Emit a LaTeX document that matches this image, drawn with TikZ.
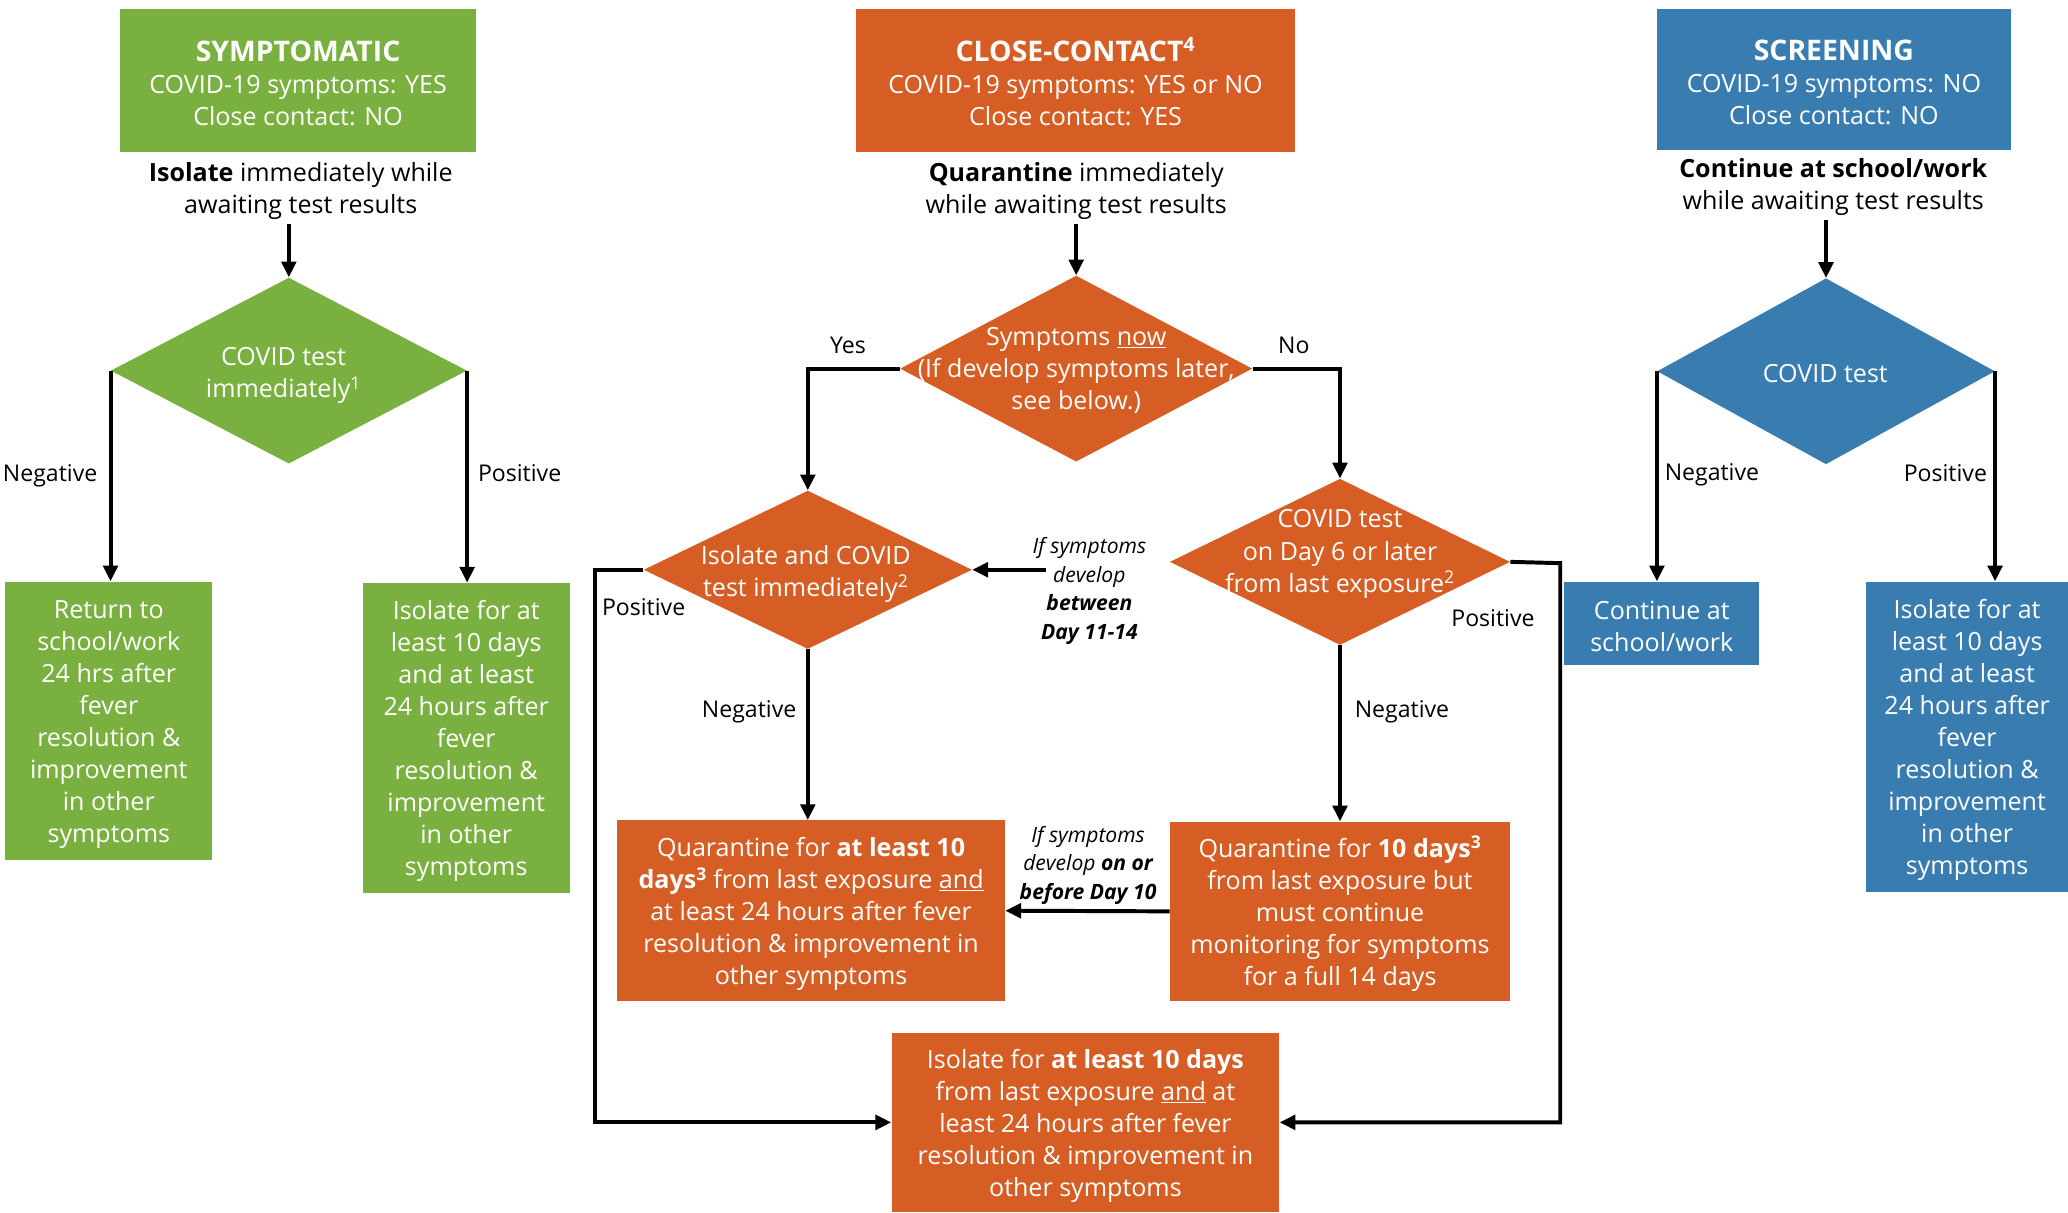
\documentclass[tikz,border=0pt]{standalone}
\usepackage{fontspec}
\setmainfont{Open Sans}
\usetikzlibrary{shapes.geometric,arrows.meta}
\definecolor{cgreen}{RGB}{122,176,64}
\definecolor{corange}{RGB}{214,94,37}
\definecolor{cblue}{RGB}{57,125,176}
\newcommand\bodyfnt{\fontsize{19}{24.3}\selectfont}
\newcommand\titlefnt{\fontsize{21.5}{26}\selectfont\bfseries}
\newcommand\lblfnt{\fontsize{17.5}{22}\selectfont}
\newcommand\itfnt{\fontsize{16}{21.7}\selectfont\itshape}
\newcommand\topst{\rule{0pt}{19.5pt}}
\begin{document}
\begin{tikzpicture}[x=1pt,y=-1pt,
  box/.style={rectangle, inner sep=0pt, align=center, text=white, font=\bodyfnt},
  diam/.style={diamond, inner sep=0pt},
  dtxt/.style={inner sep=0pt, align=center, text=white, font=\bodyfnt},
  txt/.style={inner sep=1pt, align=center, text=black, font=\bodyfnt},
  lbl/.style={inner sep=0pt, text=black, font=\lblfnt},
  itlbl/.style={inner sep=0pt, align=center, text=black, font=\itfnt},
  arr/.style={line width=3pt, -{Triangle[length=12pt,width=11pt]}}]
\useasboundingbox (0,0) rectangle (1568,919);

% ---------- left column ----------
\node[box, fill=cgreen, minimum width=270pt, minimum height=108pt] (s1) at (226,61)
  {{\titlefnt\rule{0pt}{20pt}SYMPTOMATIC}\\COVID-19 symptoms: YES\\Close contact: NO};
\node[txt] (s1t) at (228,145) {\textbf{Isolate} immediately while\\awaiting test results};
\node[diam, fill=cgreen, minimum width=270pt, minimum height=141pt] (d1) at (219,281) {};
\node[dtxt] (d1t) at (215,285) {COVID test\\immediately\textsuperscript{1}};
\node[box, fill=cgreen, minimum width=157pt, minimum height=211pt] (b1) at (82.5,546.5)
  {\topst Return to\\school/work\\24 hrs after\\fever\\resolution \&\\improvement\\in other\\symptoms};
\node[box, fill=cgreen, minimum width=157pt, minimum height=235pt] (b2) at (353.5,559.5)
  {\topst Isolate for at\\least 10 days\\and at least\\24 hours after\\fever\\resolution \&\\improvement\\in other\\symptoms};
\node[lbl] (n1) at (38,361) {Negative};
\node[lbl] (p1) at (394,359) {Positive};

\draw[arr] (d1.north |- s1t.south) ++(0,2) -- (d1.north);
\draw[arr] (d1.west) -- (d1.west |- b1.north);
\draw[arr] (d1.east) -- (d1.east |- b2.north);

% ---------- middle column ----------
\node[box, fill=corange, minimum width=333pt, minimum height=108pt] (c1) at (815.5,61)
  {{\titlefnt\rule{0pt}{20pt}CLOSE-CONTACT\textsuperscript{4}}\\COVID-19 symptoms: YES or NO\\Close contact: YES};
\node[txt] (c1t) at (816,145) {\textbf{Quarantine} immediately\\while awaiting test results};
\node[diam, fill=corange, minimum width=267pt, minimum height=141pt] (d2) at (816,279.5) {};
\node[dtxt] (d2t) at (816,281) {Symptoms \underline{now}\\(If develop symptoms later,\\see below.)};
\node[diam, fill=corange, minimum width=249pt, minimum height=120pt] (d3) at (612.5,432) {};
\node[dtxt] (d3t) at (611,435) {Isolate and COVID\\test immediately\textsuperscript{2}};
\node[diam, fill=corange, minimum width=258pt, minimum height=126pt] (d4) at (1016,426) {};
\node[dtxt] (d4t) at (1016,420) {COVID test\\on Day 6 or later\\from last exposure\textsuperscript{2}};
\node[box, fill=corange, minimum width=294pt, minimum height=137pt] (q1) at (615,690.5)
  {\topst Quarantine for \textbf{at least 10}\\\textbf{days\textsuperscript{3}} from last exposure \underline{and}\\at least 24 hours after fever\\resolution \& improvement in\\other symptoms};
\node[box, fill=corange, minimum width=258pt, minimum height=136pt] (q2) at (1016,691)
  {\topst Quarantine for \textbf{10 days\textsuperscript{3}}\\from last exposure but\\must continue\\monitoring for symptoms\\for a full 14 days};
\node[box, fill=corange, minimum width=294pt, minimum height=136pt] (bot) at (823,851)
  {\topst Isolate for \textbf{at least 10 days}\\from last exposure \underline{and} at\\least 24 hours after fever\\resolution \& improvement in\\other symptoms};

\node[lbl] (yes) at (643,262) {Yes};
\node[lbl] (no) at (981,262) {No};
\node[lbl] (n2) at (568,540) {Negative};
\node[lbl] (n3) at (1063,540) {Negative};
\node[lbl] (p2) at (488,460) {Positive};
\node[lbl] (p3) at (1132,469) {Positive};
\node[itlbl] (l1) at (826,448) {If symptoms\\develop\\\textbf{between}\\\textbf{Day 11-14}};
\node[itlbl] (l2) at (825,656) {If symptoms\\develop \textbf{on or}\\\textbf{before Day 10}};

\coordinate (a1) at (793,432);
\coordinate (k1) at (451,432);
\coordinate (k2) at (1183,427);

\draw[arr] (d2.north |- c1t.south) ++(0,2) -- (d2.north);
\draw[arr] (d2.west) -| (d3.north);
\draw[arr] (d2.east) -| (d4.north);
\draw[arr] (a1) -- (d3.east);
\draw[arr] (d3.south) -- (d3.south |- q1.north);
\draw[arr] (d4.south) -- (d4.south |- q2.north);
\draw[arr] (q2.west) -- (q1.east);
\draw[arr] (d3.west) -- (k1) |- (bot.west);
\draw[arr] (d4.east) -- (k2) |- (bot.east);

% ---------- right column ----------
\node[box, fill=cblue, minimum width=269pt, minimum height=107pt] (r1) at (1390.5,60.5)
  {{\titlefnt\rule{0pt}{20pt}SCREENING}\\COVID-19 symptoms: NO\\Close contact: NO};
\node[txt] (r1t) at (1390,142) {\textbf{Continue at school/work}\\while awaiting test results};
\node[diam, fill=cblue, minimum width=256pt, minimum height=141pt] (d5) at (1384.5,281.5) {};
\node[dtxt] (d5t) at (1384,283) {COVID test};
\node[box, fill=cblue, minimum width=148pt, minimum height=63pt] (b3) at (1260,472.5)
  {\topst Continue at\\school/work};
\node[box, fill=cblue, minimum width=153pt, minimum height=235pt] (b4) at (1491.5,558.5)
  {\topst Isolate for at\\least 10 days\\and at least\\24 hours after\\fever\\resolution \&\\improvement\\in other\\symptoms};
\node[lbl] (n4) at (1298,360) {Negative};
\node[lbl] (p4) at (1475,359) {Positive};

\draw[arr] (d5.north |- r1t.south) ++(0,2) -- (d5.north);
\draw[arr] (d5.west) -- (d5.west |- b3.north);
\draw[arr] (d5.east) -- (d5.east |- b4.north);
\end{tikzpicture}
\end{document}
